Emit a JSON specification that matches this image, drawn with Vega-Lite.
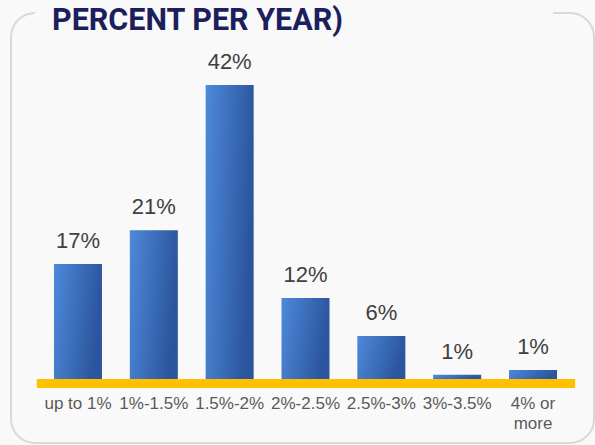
{
  "$schema": "https://vega.github.io/schema/vega-lite/v6.json",
  "width": 583,
  "height": 430,
  "autosize": "none",
  "padding": {"left": 11, "top": 13, "right": 1, "bottom": 2},
  "background": "#F9F9F9",
  "config": {
    "view": {"stroke": "#D9D9D9", "strokeWidth": 2, "cornerRadius": 24, "strokeDash": [0, 518, 3000, 0]}
  },
  "title": {
    "text": "PERCENT PER YEAR)",
    "anchor": "start",
    "font": "Roboto",
    "fontSize": 30.5,
    "fontWeight": "bold",
    "color": "#1B1F5E",
    "dx": 41,
    "dy": 30,
    "offset": -17,
    "baseline": "alphabetic"
  },
  "data": {
    "values": [
      {"range": "up to 1%", "value": 16.55, "label": "17%"},
      {"range": "1%-1.5%", "value": 21.4, "label": "21%"},
      {"range": "1.5%-2%", "value": 42.3, "label": "42%"},
      {"range": "2%-2.5%", "value": 11.65, "label": "12%"},
      {"range": "2.5%-3%", "value": 6.2, "label": "6%"},
      {"range": "3%-3.5%", "value": 0.6, "label": "1%"},
      {"range": "4% or more", "value": 1.3, "label": "1%"}
    ]
  },
  "encoding": {
    "x": {
      "field": "range",
      "type": "nominal",
      "sort": null,
      "scale": {
        "domain": ["up to 1%", "1%-1.5%", "1.5%-2%", "2%-2.5%", "2.5%-3%", "3%-3.5%", "4% or more"],
        "paddingInner": 0.367, "paddingOuter": 0.527, "align": 0.5375
      },
      "axis": {
        "title": null,
        "domain": false,
        "ticks": false,
        "grid": false,
        "labelAngle": 0,
        "labelFont": "Liberation Sans",
        "labelFontSize": 17,
        "labelColor": "#595959",
        "labelPadding": 12,
        "labelBaseline": "top",
        "labelLineHeight": 20,
        "offset": -60,
        "labelExpr": "datum.value == '4% or more' ? ['4% or', 'more'] : datum.value"
      }
    }
  },
  "layer": [
    {
      "mark": {"type": "rule", "color": "#FFC000", "strokeWidth": 8.5, "xOffset": -41, "x2Offset": 42, "yOffset": 4.3},
      "encoding": {
        "x": {"datum": "up to 1%"},
        "x2": {"datum": "4% or more"},
        "y": {"datum": 0, "type": "quantitative", "scale": {"domain": [-9.21, 52.66], "nice": false, "zero": false}, "axis": null}
      }
    },
    {
      "mark": {
        "type": "bar",
        "color": {
          "gradient": "linear",
          "x1": 0, "y1": 0, "x2": 1, "y2": 0.25,
          "stops": [{"offset": 0, "color": "#4E89DB"}, {"offset": 1, "color": "#2B559C"}]
        }
      },
      "encoding": {
        "y": {"field": "value", "type": "quantitative", "scale": {"domain": [-9.21, 52.66], "nice": false, "zero": false}, "axis": null},
        "y2": {"datum": 0}
      }
    },
    {
      "mark": {"type": "text", "dy": -16, "baseline": "alphabetic", "font": "Liberation Sans", "fontSize": 22, "color": "#404040"},
      "encoding": {
        "y": {"field": "value", "type": "quantitative", "scale": {"domain": [-9.21, 52.66], "nice": false, "zero": false}, "axis": null},
        "text": {"field": "label", "type": "nominal"}
      }
    }
  ]
}
